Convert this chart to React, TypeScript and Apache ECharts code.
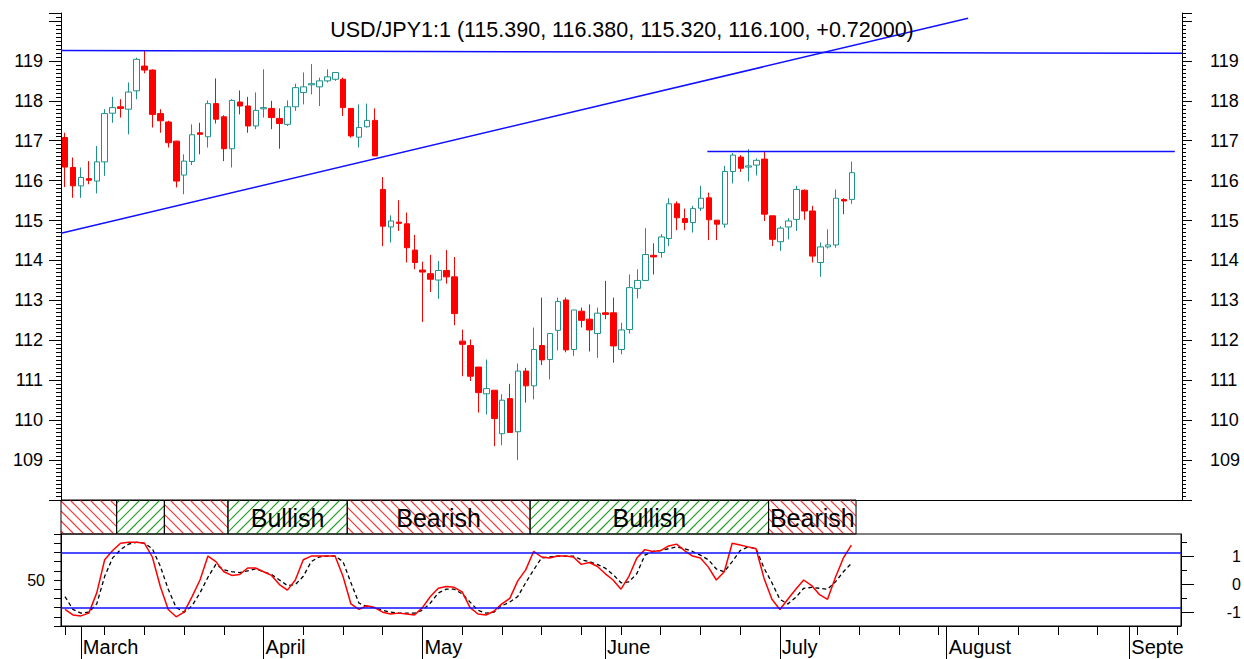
import React, { useEffect, useRef } from 'react';
import * as echarts from 'echarts';

// ---------- data ----------
const titleText = 'USD/JPY1:1 (115.390, 116.380, 115.320, 116.100, +0.72000)';
const firstDay = '2006-02-27';
const lastDay = '2006-09-11';
const monthNames = ['January', 'February', 'March', 'April', 'May', 'June', 'July', 'August', 'September', 'October', 'November', 'December'];

const opens = [
  117.08, 116.33, 115.87, 116.05, 115.99, 116.47, 117.69, 117.85, 117.79, 118.25,
  118.87, 118.77, 117.68, 117.47, 116.99, 116.14, 116.48, 117.20, 117.10, 117.93,
  117.60, 116.80, 117.97, 117.87, 117.37, 117.80, 117.81, 117.56, 117.41, 117.85,
  118.21, 118.40, 118.35, 118.50, 118.54, 118.54, 117.81, 117.09, 117.35, 117.51,
  115.78, 114.84, 114.96, 114.92, 114.26, 113.76, 113.67, 113.51, 113.75, 113.59,
  111.98, 111.87, 111.33, 110.66, 110.75, 109.66, 110.54, 109.71, 111.23, 110.86,
  111.87, 111.52, 112.25, 113.01, 111.77, 112.73, 112.53, 112.17, 112.69, 112.69,
  111.77, 112.27, 113.30, 113.50, 114.13, 114.20, 114.55, 115.42, 115.05, 114.95,
  115.31, 115.57, 115.01, 114.91, 116.23, 116.59, 116.34, 116.39, 116.54, 115.12,
  114.47, 114.84, 115.03, 115.76, 115.24, 113.95, 114.34, 114.39, 115.53, 115.53,
];
const highs = [
  117.20, 116.58, 116.33, 116.49, 116.87, 117.79, 118.10, 118.04, 118.46, 119.08,
  119.25, 118.79, 117.79, 117.50, 117.00, 116.66, 117.41, 117.45, 118.01, 118.56,
  117.64, 118.04, 118.26, 118.10, 118.21, 118.79, 118.00, 117.81, 118.01, 118.43,
  118.71, 118.92, 118.58, 118.79, 118.72, 118.58, 117.81, 117.91, 117.93, 117.81,
  116.09, 115.13, 115.51, 115.20, 114.64, 113.97, 114.14, 113.99, 114.26, 114.09,
  112.27, 112.02, 111.33, 111.52, 110.75, 110.65, 110.91, 111.42, 111.31, 112.32,
  113.07, 112.17, 113.07, 113.07, 112.76, 112.82, 112.90, 112.82, 113.49, 113.07,
  112.44, 113.65, 113.78, 114.81, 114.43, 114.66, 115.56, 115.48, 115.30, 115.37,
  115.87, 115.70, 115.01, 116.37, 116.69, 116.64, 116.79, 116.56, 116.72, 115.12,
  114.86, 115.06, 115.87, 115.78, 115.37, 114.45, 114.78, 115.78, 115.56, 116.48,
];
const lows = [
  115.84, 115.57, 115.57, 115.91, 115.68, 116.12, 117.45, 117.58, 117.16, 118.04,
  118.69, 117.33, 117.20, 116.83, 115.83, 115.66, 116.39, 116.66, 116.83, 117.43,
  116.49, 116.33, 117.66, 117.20, 117.29, 117.58, 117.29, 116.80, 117.37, 117.75,
  117.91, 118.16, 117.87, 118.46, 118.50, 117.62, 117.08, 116.83, 117.33, 116.62,
  114.36, 114.45, 114.74, 113.95, 113.78, 112.46, 113.21, 113.04, 113.42, 112.38,
  111.10, 110.98, 110.19, 110.14, 109.35, 109.37, 109.69, 109.00, 110.44, 110.52,
  111.38, 111.02, 111.75, 111.70, 111.61, 112.32, 111.72, 111.56, 112.53, 111.44,
  111.65, 112.17, 113.05, 113.50, 113.65, 114.07, 114.36, 114.76, 114.76, 114.70,
  115.24, 114.51, 114.51, 114.82, 115.93, 116.22, 115.98, 116.13, 114.99, 114.36,
  114.24, 114.53, 114.74, 115.02, 113.95, 113.59, 114.30, 114.32, 115.16, 115.42,
];
const closes = [
  116.34, 115.87, 116.08, 116.01, 116.47, 117.68, 117.83, 117.81, 118.22, 119.04,
  118.77, 117.66, 117.50, 116.95, 115.99, 116.49, 117.15, 117.16, 117.93, 117.54,
  116.80, 118.01, 117.87, 117.37, 117.76, 117.83, 117.58, 117.43, 117.85, 118.33,
  118.35, 118.43, 118.50, 118.60, 118.71, 117.83, 117.12, 117.33, 117.51, 116.62,
  114.86, 114.99, 114.93, 114.32, 113.95, 113.71, 113.53, 113.75, 113.59, 112.67,
  111.90, 111.10, 110.69, 110.79, 110.04, 110.50, 109.69, 111.23, 110.86, 111.77,
  111.51, 112.17, 112.97, 111.76, 112.76, 112.50, 112.26, 112.68, 112.65, 111.86,
  112.26, 113.32, 113.50, 114.15, 114.09, 114.59, 115.42, 115.07, 114.95, 115.30,
  115.56, 115.02, 114.91, 116.23, 116.64, 116.31, 116.37, 116.51, 115.16, 114.53,
  114.81, 114.99, 115.78, 115.24, 114.11, 114.34, 114.39, 115.56, 115.49, 116.20,
];

const stochK = [
  18, 12, 11, 14, 36, 72, 82, 90, 91, 91,
  90, 75, 43, 18, 10, 15, 32, 50, 76, 70,
  59, 55, 56, 63, 63, 59, 55, 45, 39, 50,
  72, 76, 76, 76, 76, 54, 24, 18, 22, 20,
  15, 13, 14, 13, 12, 20, 32, 41, 43, 42,
  37, 20, 13, 12, 16, 24, 30, 49, 61, 81,
  75, 74, 76, 76, 75, 67, 69, 65, 57, 50,
  40, 54, 74, 83, 81, 82, 87, 89, 82, 76,
  74, 64, 50, 59, 90, 88, 86, 84, 52, 29,
  18, 29, 40, 50, 44, 34, 29, 53, 74, 88,
];
const stochD = [
  32, 18, 14, 15, 24, 54, 74, 83, 89, 91,
  90, 84, 65, 40, 20, 15, 22, 36, 53, 67,
  61, 59, 58, 60, 62, 59, 56, 50, 44, 45,
  54, 70, 75, 76, 76, 70, 47, 25, 21, 20,
  17, 15, 14, 14, 14, 17, 25, 36, 40, 40,
  35, 26, 17, 14, 15, 22, 26, 32, 47, 61,
  74, 75, 76, 76, 76, 72, 70, 67, 63, 56,
  47, 48, 57, 77, 81, 82, 84, 86, 84, 81,
  77, 72, 62, 59, 70, 82, 86, 84, 63, 47,
  29, 24, 31, 41, 42, 41, 40, 48, 59, 68,
];
const stochLevels = [80, 20];

const bandStarts = [0, 7, 13, 21, 36, 59, 89];
const bandEnds = [6, 12, 20, 35, 58, 88, 99];
const bandTrend = ['bear', 'bull', 'bear', 'bull', 'bear', 'bull', 'bear'];
const bandLabels = ['', '', '', 'Bullish', 'Bearish', 'Bullish', 'Bearish'];

// trend lines: [x (bar index), price] pairs
const lineTop = [[-0.5, 119.26], [140.5, 119.19]];
const lineRising = [[-0.5, 114.68], [113.6, 120.07]];
const lineResist = [[80.8, 116.73], [139.6, 116.73]];
const trendLines = [lineTop, lineRising, lineResist];

const priceLabels = [109, 110, 111, 112, 113, 114, 115, 116, 117, 118, 119];
const stochLeftLabels = [50];
const stochRightLabels = [-1, 0, 1];

// ---------- helpers ----------
function pad(n: number) { return n < 10 ? '0' + n : String(n); }
function buildDays(a: string, b: string) {
  const out: string[] = [];
  const d = new Date(a + 'T00:00:00');
  const e = new Date(b + 'T00:00:00');
  while (d <= e) {
    const wd = d.getDay();
    if (wd !== 0 && wd !== 6) out.push(d.getFullYear() + '-' + pad(d.getMonth() + 1) + '-' + pad(d.getDate()));
    d.setDate(d.getDate() + 1);
  }
  return out;
}

const FONT = '"Liberation Sans", Arial, sans-serif';
const TEAL = '#1f918c';
const RED = '#ff0000';
const BLUE = '#1010ff';
const HATCH_BULL = '#1f9e1f';
const HATCH_BEAR = '#f03a3a';

export default function App() {
  const ref = useRef<HTMLDivElement>(null);
  useEffect(() => {
    if (!ref.current) return;
    const chart = echarts.init(ref.current, undefined, { renderer: 'svg' });
    const days = buildDays(firstDay, lastDay);
    const n = days.length;
    const parsed = days.map((s) => new Date(s + 'T00:00:00'));
    const isMonday = parsed.map((d) => d.getDay() === 1);
    const isMonthStart = parsed.map((d, i) => i > 0 && d.getMonth() !== parsed[i - 1].getMonth());

    const plotLeft = 61;
    const plotWidth = 1121;
    const bw = plotWidth / n;

    const candleData = opens.map((o, i) => [o, closes[i], lows[i], highs[i]]);
    const bandData = bandStarts.map((s, i) => [s - 0.5, bandEnds[i] + 0.5, i]);

    const fmt: any = (echarts as any).format;
    const monthLabel = (value: string, index: number) => {
      const d = new Date(value + 'T00:00:00');
      const name = monthNames[d.getMonth()];
      const avail = plotWidth - (index + 0.5) * bw + 8;
      if (fmt && fmt.truncateText) return fmt.truncateText(name, avail, '20px ' + FONT, '');
      return name;
    };

    const renderBand = (params: any, api: any) => {
      const i = api.value(2);
      const cs = params.coordSys;
      const x0 = api.coord([api.value(0), 0])[0];
      const x1 = api.coord([api.value(1), 0])[0];
      const y0 = cs.y;
      const y1 = cs.y + cs.height;
      const bull = bandTrend[i] === 'bull';
      const color = bull ? HATCH_BULL : HATCH_BEAR;
      const step = 10;
      const children: any[] = [];
      if (!bull) {
        const kStart = Math.floor((x0 - y1) / step) * step;
        for (let k = kStart; k <= x1 - y0; k += step) {
          const ya = Math.max(y0, x0 - k);
          const yb = Math.min(y1, x1 - k);
          if (yb - ya > 0.5) children.push({ type: 'line', shape: { x1: ya + k, y1: ya, x2: yb + k, y2: yb }, style: { stroke: color, lineWidth: 1.1 } });
        }
      } else {
        const kStart = Math.floor((x0 + y0) / step) * step;
        for (let k = kStart; k <= x1 + y1; k += step) {
          const ya = Math.max(y0, k - x1);
          const yb = Math.min(y1, k - x0);
          if (yb - ya > 0.5) children.push({ type: 'line', shape: { x1: k - ya, y1: ya, x2: k - yb, y2: yb }, style: { stroke: color, lineWidth: 1.1 } });
        }
      }
      children.push({ type: 'rect', shape: { x: x0, y: y0, width: x1 - x0, height: y1 - y0 }, style: { fill: 'none', stroke: '#000', lineWidth: 1 } });
      if (bandLabels[i]) {
        children.push({
          type: 'text',
          style: { text: bandLabels[i], x: (x0 + x1) / 2, y: (y0 + y1) / 2 + 1, align: 'center', verticalAlign: 'middle', fontSize: 25, fontFamily: FONT, fill: '#000' },
        });
      }
      return { type: 'group', children };
    };

    const axisBlack = { lineStyle: { color: '#000', width: 1 } };

    const option: any = {
      animation: false,
      backgroundColor: '#fff',
      textStyle: { fontFamily: FONT },
      title: {
        text: titleText,
        left: 'center',
        top: 19,
        padding: 0,
        textStyle: { fontSize: 21.5, fontWeight: 'normal', color: '#000', fontFamily: FONT },
      },
      grid: [
        { left: plotLeft, width: plotWidth, top: 13, height: 487 },
        { left: plotLeft, width: plotWidth, top: 500, height: 34 },
        { left: plotLeft, width: plotWidth, top: 534, height: 92, show: true, borderColor: '#000', borderWidth: 1, backgroundColor: 'transparent' },
      ],
      xAxis: [
        { type: 'category', gridIndex: 0, data: days, boundaryGap: true, axisLine: { show: true, onZero: false, ...axisBlack }, axisTick: { show: false }, axisLabel: { show: false }, splitLine: { show: false } },
        { type: 'value', gridIndex: 0, min: -0.5, max: n - 0.5, show: false, axisLine: { onZero: false } },
        { type: 'value', gridIndex: 1, min: -0.5, max: n - 0.5, show: false, axisLine: { onZero: false } },
        {
          type: 'category', gridIndex: 2, data: days, boundaryGap: true, position: 'bottom',
          axisLine: { show: true, onZero: false, ...axisBlack },
          axisTick: { show: true, alignWithLabel: true, length: 9, interval: (i: number) => isMonday[i], ...axisBlack },
          axisLabel: { show: false }, splitLine: { show: false },
        },
        {
          type: 'category', gridIndex: 2, data: days, boundaryGap: true, position: 'bottom',
          axisLine: { show: false, onZero: false },
          axisTick: { show: true, alignWithLabel: true, length: 34, interval: (i: number) => isMonthStart[i], ...axisBlack },
          axisLabel: {
            show: true, interval: (i: number) => isMonthStart[i], formatter: monthLabel,
            align: 'left', margin: 11, padding: [0, 0, 0, 2], fontSize: 20, color: '#000', fontFamily: FONT,
          },
          splitLine: { show: false },
        },
      ],
      yAxis: [
        {
          type: 'value', gridIndex: 0, position: 'left', min: 108, max: 120.2, interval: 1,
          axisLine: { show: true, onZero: false, ...axisBlack },
          axisTick: { show: true, length: 12, ...axisBlack },
          minorTick: { show: true, splitNumber: 10, length: 5, ...axisBlack },
          splitLine: { show: false }, minorSplitLine: { show: false },
          axisLabel: { margin: 18, fontSize: 18, color: '#000', fontFamily: FONT, formatter: (v: number) => (priceLabels.indexOf(v) >= 0 ? String(v) : '') },
        },
        {
          type: 'value', gridIndex: 0, position: 'right', min: 108, max: 120.2, interval: 1,
          axisLine: { show: true, onZero: false, ...axisBlack },
          axisTick: { show: true, length: 10, ...axisBlack },
          minorTick: { show: true, splitNumber: 10, length: 4, ...axisBlack },
          splitLine: { show: false }, minorSplitLine: { show: false },
          axisLabel: { margin: 28, fontSize: 18, color: '#000', fontFamily: FONT, formatter: (v: number) => (priceLabels.indexOf(v) >= 0 ? String(v) : '') },
        },
        { type: 'value', gridIndex: 1, min: 0, max: 1, show: false, axisLine: { onZero: false } },
        {
          type: 'value', gridIndex: 2, position: 'left', min: 0, max: 100, interval: 10,
          axisLine: { show: true, onZero: false, ...axisBlack },
          axisTick: { show: true, length: 7, ...axisBlack },
          splitLine: { show: false },
          axisLabel: { margin: 16, fontSize: 16, color: '#000', fontFamily: FONT, formatter: (v: number) => (stochLeftLabels.indexOf(v) >= 0 ? String(v) : '') },
        },
        {
          type: 'value', gridIndex: 2, position: 'right', min: -1.5, max: 1.8, interval: 0.5,
          axisLine: { show: true, onZero: false, ...axisBlack },
          axisTick: { show: true, length: 13, customValues: stochRightLabels, ...axisBlack },
          splitLine: { show: false },
          axisLabel: {
            customValues: stochRightLabels, align: 'right', margin: 60, fontSize: 16, color: '#000', fontFamily: FONT,
            formatter: (v: number) => (stochRightLabels.indexOf(v) >= 0 ? String(v) : ''),
          },
        },
        {
          type: 'value', gridIndex: 2, position: 'right', min: -1.5, max: 1.8, interval: 0.5,
          axisLine: { show: false, onZero: false },
          axisTick: { show: true, length: 6, customValues: [-0.5, 0.5, 1.5], ...axisBlack },
          axisLabel: { show: false }, splitLine: { show: false },
        },
      ],
      series: [
        {
          type: 'candlestick', name: 'USD/JPY', xAxisIndex: 0, yAxisIndex: 0, data: candleData, barWidth: 6,
          itemStyle: { color: '#ffffff', color0: RED, borderColor: TEAL, borderColor0: RED, borderWidth: 1 },
        },
        ...trendLines.map((ln, i) => ({
          type: 'line', name: 'trend' + i, xAxisIndex: 1, yAxisIndex: 0, data: ln, symbol: 'none', silent: true,
          lineStyle: { color: BLUE, width: 1.5 }, z: 5,
        })),
        {
          type: 'custom', name: 'trend state', xAxisIndex: 2, yAxisIndex: 2, data: bandData, renderItem: renderBand,
          encode: { x: [0, 1] }, silent: true,
        },
        {
          type: 'line', name: '%K', xAxisIndex: 3, yAxisIndex: 3, data: stochK, symbol: 'none',
          lineStyle: { color: RED, width: 1.5 }, z: 4,
          markLine: {
            silent: true, symbol: ['none', 'none'], label: { show: false },
            lineStyle: { color: BLUE, width: 1.5, type: 'solid' },
            data: stochLevels.map((v) => ({ yAxis: v })),
          },
        },
        {
          type: 'line', name: '%D', xAxisIndex: 3, yAxisIndex: 3, data: stochD, symbol: 'none',
          lineStyle: { color: '#000', width: 1.3, type: [4, 3] }, z: 3,
        },
      ],
    };
    chart.setOption(option);
    return () => chart.dispose();
  }, []);
  return <div ref={ref} style={{ position: 'absolute', left: 0, top: 0, width: 1244, height: 659 }} />;
}
